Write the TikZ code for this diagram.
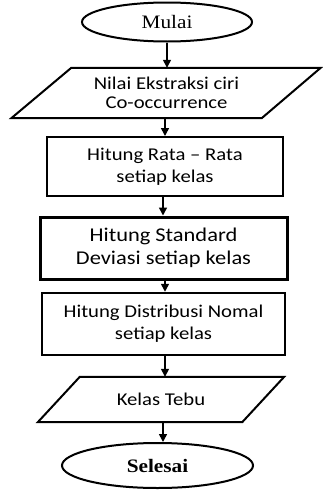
\documentclass[tikz,border=0pt]{standalone}
\usepackage{fontspec}
\setmainfont{Carlito}[FakeStretch=1.15]
\newfontfamily\serifx{Liberation Serif}[FakeStretch=1.12]
\usetikzlibrary{shapes.geometric,arrows.meta,calc}
\begin{document}
\begin{tikzpicture}[x=1pt,y=-1pt,
  term/.style={ellipse,draw,line width=2pt,inner sep=0pt,font=\serifx\fontsize{19}{22}\selectfont},
  procbox/.style={rectangle,draw,line width=2pt,inner sep=0pt,align=center,font=\fontsize{18}{22}\selectfont},
  iobox/.style={rectangle,inner sep=0pt,align=center,font=\fontsize{18}{19.5}\selectfont},
  para/.style={line width=2pt,line join=miter},
  flow/.style={line width=1.5pt,-{Triangle[length=8pt,width=8pt]}}]
\useasboundingbox (0,0) rectangle (322,490);
\node[term,minimum width=170pt,minimum height=39pt] (start) at (167,22) {Mulai};
\node[iobox,minimum width=250pt,minimum height=50pt] (p1) at (166.5,93) {Nilai Ekstraksi ciri\\Co-occurrence};
\draw[para] ($(p1.north west)+(30,0)$) -- ($(p1.north east)+(29,0)$) -- ($(p1.south east)+(-30,0)$) -- ($(p1.south west)+(-30,0)$) -- cycle;
\node[procbox,minimum width=236pt,minimum height=59pt] (b1) at (165,166.5) {Hitung Rata -- Rata\\setiap kelas};
\node[procbox,line width=3pt,minimum width=247pt,minimum height=62pt,font=\fontsize{19.5}{23}\selectfont] (b2) at (163.5,248) {Hitung Standard\\Deviasi setiap kelas};
\node[procbox,line width=2.5pt,minimum width=243pt,minimum height=62pt] (b3) at (163.5,324) {Hitung Distribusi Nomal\\setiap kelas};
\node[iobox,minimum width=204pt,minimum height=45pt] (p2) at (161,399.5) {Kelas Tebu};
\draw[para] ($(p2.north west)+(21,0)$) -- ($(p2.north east)+(21,0)$) -- ($(p2.south east)+(-21,0)$) -- ($(p2.south west)+(-21,0)$) -- cycle;
\node[term,minimum width=191pt,minimum height=45pt,font=\serifx\bfseries\fontsize{19}{22}\selectfont] (end) at (157.5,465.5) {Selesai};
\draw[flow] (start.south) -- (start.south |- p1.north);
\draw[flow] ([xshift=-1.5pt]p1.south) -- ([xshift=-1.5pt]p1.south |- b1.north);
\draw[flow] ([xshift=-2pt]b1.south) -- ([xshift=-2pt]b1.south |- b2.north);
\draw[flow] ([xshift=1.5pt]b2.south) -- ([xshift=1.5pt]b2.south |- b3.north);
\draw[flow] ([xshift=1.5pt]b3.south) -- ([xshift=1.5pt]b3.south |- p2.north);
\draw[flow] ([xshift=2pt]p2.south) -- ([xshift=2pt]p2.south |- end.north);
\end{tikzpicture}
\end{document}
